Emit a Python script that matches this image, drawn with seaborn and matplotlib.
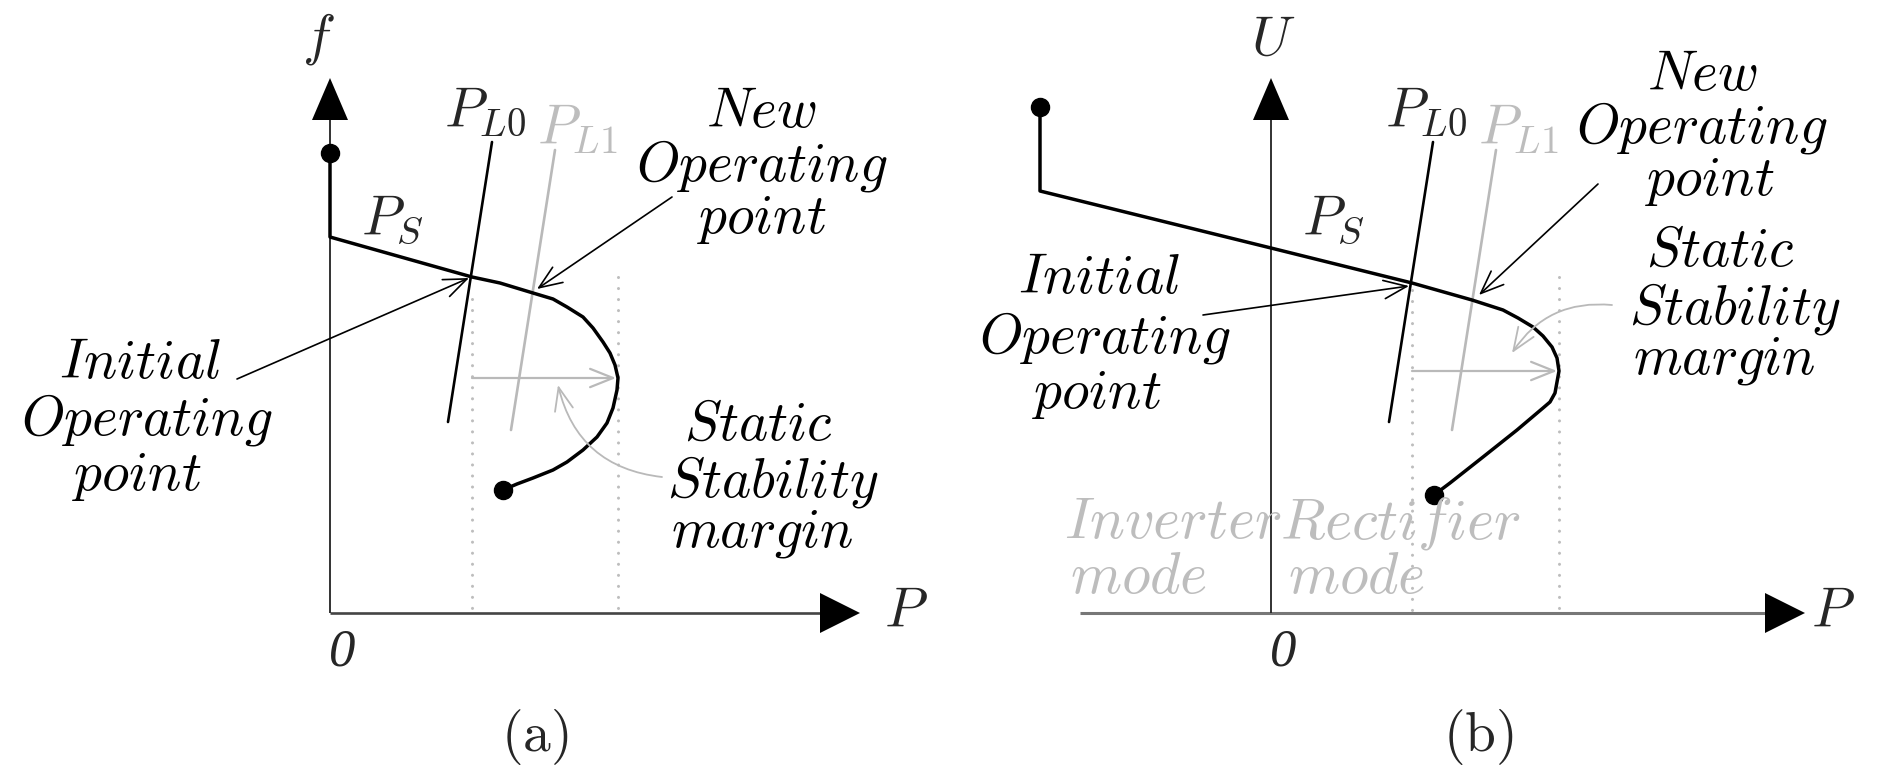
import matplotlib
matplotlib.use("Agg")
import matplotlib.pyplot as plt
import seaborn as sns

# ---------------------------------------------------------------------------
# (a) frequency / active-power characteristic  f(P)
ps_a_p = [0.00, 0.00, 1.42, 1.70, 2.03, 2.23, 2.37, 2.53, 2.63, 2.73, 2.80, 2.85, 2.88,
          2.87, 2.83, 2.77, 2.67, 2.53, 2.37, 2.23, 2.03, 1.87, 1.73]
ps_a_f = [4.60, 3.76, 3.36, 3.30, 3.20, 3.14, 3.06, 2.96, 2.85, 2.71, 2.60, 2.48, 2.35,
          2.23, 2.05, 1.90, 1.76, 1.63, 1.51, 1.43, 1.35, 1.29, 1.23]
op_a_init = (1.42, 3.36)
op_a_new = (2.03, 3.20)
nose_a = (2.88, 2.35)

# (b) voltage / active-power characteristic  U(P)
ps_b_p = [-2.31, -2.31, 0.00, 1.41, 2.01, 2.32, 2.47, 2.62, 2.72, 2.81, 2.86, 2.88,
          2.84, 2.79, 2.72, 2.46, 2.12, 1.79, 1.63]
ps_b_u = [5.06, 4.22, 3.65, 3.30, 3.13, 3.03, 2.95, 2.86, 2.77, 2.66, 2.55, 2.42,
          2.20, 2.11, 2.05, 1.83, 1.56, 1.30, 1.18]
op_b_init = (1.41, 3.30)
op_b_new = (2.01, 3.13)
nose_b = (2.88, 2.42)

# load characteristics before / after the load step
pl0_p = [1.62, 1.18]
pl0_v = [4.71, 1.91]
pl1_p = [2.25, 1.81]
pl1_v = [4.63, 1.83]

# ---------------------------------------------------------------------------
sns.set_theme(style="white")
plt.rcParams["mathtext.fontset"] = "cm"
plt.rcParams["font.family"] = ["DejaVu Serif"]

W, H = 1879, 770
fig = plt.figure(figsize=(W / 100, H / 100), dpi=100)
fig.patch.set_facecolor("white")

GREY = "#b9b9b9"
GREY_TXT = "#bdbdbd"
FS = 40


def make_ax(px0, px1, ox, oy):
    ax = fig.add_axes([px0 / W, 0, (px1 - px0) / W, 1])
    ax.set_xlim((px0 - ox) / 100, (px1 - ox) / 100)
    ax.set_ylim((oy - H) / 100, oy / 100)
    ax.axis("off")
    return ax


def axes_frame(ax, x_start, x_tip, y_tip, xcolor, xlw):
    # P axis
    ax.plot([x_start, x_tip - 0.2], [0, 0], color=xcolor, lw=xlw,
            solid_capstyle="butt", clip_on=False, zorder=2)
    ax.fill([x_tip, x_tip - 0.40, x_tip - 0.40], [0, 0.20, -0.20],
            color="black", lw=0, clip_on=False, zorder=3)
    # vertical axis
    ax.plot([0, 0], [0, y_tip - 0.2], color="#222222", lw=1.3,
            solid_capstyle="butt", clip_on=False, zorder=2)
    ax.fill([0, -0.18, 0.18], [y_tip, y_tip - 0.42, y_tip - 0.42],
            color="black", lw=0, clip_on=False, zorder=3)


def arrow(ax, start, end, color="black", lw=1.2, rad=0.0, zorder=4):
    ax.annotate("", xy=end, xytext=start,
                arrowprops=dict(arrowstyle="->,head_length=0.75,head_width=0.3",
                                mutation_scale=22, lw=lw, color=color,
                                shrinkA=0, shrinkB=0,
                                connectionstyle=f"arc3,rad={rad}"),
                zorder=zorder)


def words(ax, lines, color="black", ha="center", fs=FS):
    for x, y, s in lines:
        ax.text(x, y, s, fontsize=fs, ha=ha, va="baseline", color=color, zorder=5)


def panel(ax, cp, cv, init, new, nose, margin_top_left, margin_top_right):
    # static stability margin guides
    for xg, top in ((init[0], margin_top_left), (nose[0], margin_top_right)):
        ax.plot([xg, xg], [top, 0], color="#bdbdbd", lw=2.2,
                ls=(0, (0.01, 3.6)), dash_capstyle="round", zorder=1)
    arrow(ax, (init[0], nose[1]), (nose[0] - 0.02, nose[1]), color=GREY, lw=1.6, zorder=2)
    # load lines
    sns.lineplot(x=pl0_p, y=pl0_v, sort=False, estimator=None, color="black",
                 lw=1.9, ax=ax, zorder=3)
    sns.lineplot(x=pl1_p, y=pl1_v, sort=False, estimator=None, color=GREY,
                 lw=1.9, ax=ax, zorder=2)
    # source characteristic
    sns.lineplot(x=cp, y=cv, sort=False, estimator=None, color="black", lw=2.5,
                 ax=ax, zorder=4, solid_joinstyle="round")
    ax.plot([cp[0], cp[-1]], [cv[0], cv[-1]], "o", ms=13, color="black", zorder=5)
    ax.text(1.55, 4.86, r"$P_{L0}$", fontsize=FS, ha="center", va="baseline", zorder=5)
    ax.text(2.47, 4.68, r"$P_{L1}$", fontsize=FS, ha="center", va="baseline",
            color=GREY_TXT, zorder=5)
    ax.text(0.62, 3.78, r"$P_S$", fontsize=FS, ha="center", va="baseline", zorder=5)
    ax.text(0.12, -0.52, "0", fontsize=38, ha="center", va="baseline",
            family="Liberation Serif", style="italic")


# ---------------------------------------------------------------- panel (a)
ax_a = make_ax(0, 940, 330, 613)
axes_frame(ax_a, 0.0, 5.30, 5.35, "#444444", 1.9)
panel(ax_a, ps_a_p, ps_a_f, op_a_init, op_a_new, nose_a, 3.14, 3.36)
ax_a.text(-0.12, 5.60, r"$f$", fontsize=FS, ha="center", va="baseline")
ax_a.text(5.76, -0.14, r"$P$", fontsize=FS, ha="center", va="baseline")
ax_a.text(2.05, -1.38, r"$\mathrm{(a)}$", fontsize=FS, ha="center", va="baseline")
words(ax_a, [(-1.90, 2.35, r"$Initial$"), (-1.83, 1.79, r"$Operating$"),
             (-1.93, 1.23, r"$point$")])
words(ax_a, [(4.31, 4.86, r"$New$"), (4.32, 4.33, r"$Operating$"),
             (4.32, 3.80, r"$point$")])
words(ax_a, [(4.28, 1.73, r"$Static$"), (4.43, 1.16, r"$Stability$"),
             (4.32, 0.66, r"$margin$")])
arrow(ax_a, (-0.93, 2.34), (op_a_init[0] - 0.03, op_a_init[1] - 0.01))
arrow(ax_a, (3.42, 4.16), (op_a_new[0] + 0.04, op_a_new[1] + 0.04))
arrow(ax_a, (3.32, 1.36), (2.28, 2.28), color=GREY, lw=1.3, rad=-0.35)

# ---------------------------------------------------------------- panel (b)
ax_b = make_ax(940, 1879, 1271, 613)
axes_frame(ax_b, -1.91, 5.34, 5.35, "#777777", 2.2)
panel(ax_b, ps_b_p, ps_b_u, op_b_init, op_b_new, nose_b, 3.23, 3.36)
ax_b.text(0.02, 5.58, r"$U$", fontsize=FS, ha="center", va="baseline")
ax_b.text(5.62, -0.14, r"$P$", fontsize=FS, ha="center", va="baseline")
ax_b.text(2.07, -1.38, r"$\mathrm{(b)}$", fontsize=FS, ha="center", va="baseline")
words(ax_b, [(-1.72, 3.20, r"$Initial$"), (-1.66, 2.61, r"$Operating$"),
             (-1.74, 2.05, r"$point$")])
words(ax_b, [(4.31, 5.23, r"$New$"), (4.31, 4.70, r"$Operating$"),
             (4.39, 4.18, r"$point$")])
words(ax_b, [(4.49, 3.47, r"$Static$"), (4.64, 2.90, r"$Stability$"),
             (4.53, 2.40, r"$margin$")])
words(ax_b, [(-2.07, 0.75, r"$Inverter$"), (-2.01, 0.20, r"$mode$"),
             (0.09, 0.75, r"$Rectifier$"), (0.17, 0.20, r"$mode$")],
      color=GREY_TXT, ha="left", fs=42)
arrow(ax_b, (-0.68, 2.98), (op_b_init[0] - 0.03, op_b_init[1] - 0.03))
arrow(ax_b, (3.27, 4.29), (op_b_new[0] + 0.07, op_b_new[1] + 0.05))
arrow(ax_b, (3.41, 3.08), (2.41, 2.60), color=GREY, lw=1.3, rad=0.3)

fig.savefig("out.png", dpi=100, facecolor="white")
